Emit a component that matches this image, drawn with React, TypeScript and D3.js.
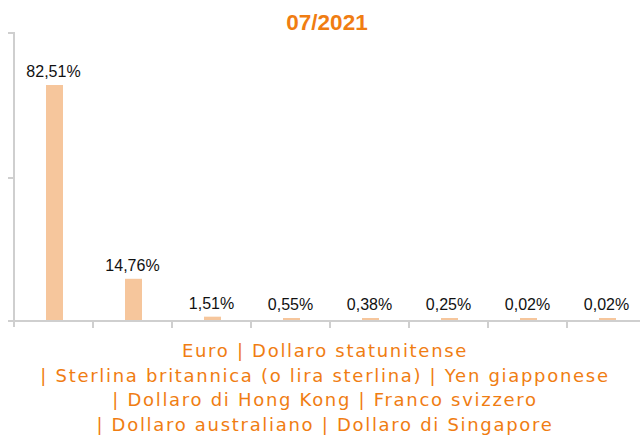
import React from "react";
import * as d3 from "d3";

const title = "07/2021";
const categories = [
  "Euro",
  "Dollaro statunitense",
  "Sterlina britannica (o lira sterlina)",
  "Yen giapponese",
  "Dollaro di Hong Kong",
  "Franco svizzero",
  "Dollaro australiano",
  "Dollaro di Singapore",
];
const values = [82.51, 14.76, 1.51, 0.55, 0.38, 0.25, 0.02, 0.02];
const yTicks = [0, 50, 100];

const W = 640;
const H = 435;
const ORANGE = "#f07d12";
const BAR = "#f6c69c";
const AXIS = "#cfcfcf";
const LABEL_FONT = "'Liberation Sans', Arial, Helvetica, sans-serif";
const CAT_FONT = "'DejaVu Sans', Verdana, sans-serif";
const CAT_SPACING = 1.7;

function measure(text: string, font: string): number {
  const c = document.createElement("canvas");
  const ctx = c.getContext("2d");
  if (!ctx) return text.length * 10.6;
  ctx.font = font;
  return ctx.measureText(text).width + text.length * CAT_SPACING;
}

function wrapCategories(cats: string[], maxW: number): string[] {
  const lines: string[] = [];
  let cur = "";
  cats.forEach((cat, i) => {
    const chunk = (i > 0 ? "| " : "") + cat;
    const trial = cur ? cur + " " + chunk : chunk;
    if (cur && measure(trial, `18px ${CAT_FONT}`) > maxW) {
      lines.push(cur);
      cur = chunk;
    } else {
      cur = trial;
    }
  });
  if (cur) lines.push(cur);
  return lines;
}

export default function App() {
  const x = d3.scaleBand<string>().domain(categories).range([14, 646]).padding(0);
  const y = d3.scaleLinear().domain([0, 100]).range([321, 35]);
  const barW = 17;
  const y0 = y(0);
  const lines = wrapCategories(categories, 610);

  return (
    <svg width={W} height={H} style={{ position: "absolute", left: 0, top: 0, background: "#fff" }}>
      <text x={327} y={30} textAnchor="middle" fontFamily={LABEL_FONT} fontWeight="bold" fontSize={22.5} fill={ORANGE}>
        {title}
      </text>
      {categories.map((c, i) => {
        const v = values[i];
        const cx = (x(c) as number) + x.bandwidth() / 2 + 1;
        const top = Math.min(y(v), y0 - 3);
        return (
          <g key={c}>
            <rect x={cx - barW / 2} y={top} width={barW} height={y0 - top} fill={BAR} />
            <text x={cx - 1} y={top - 8} textAnchor="middle" fontFamily={LABEL_FONT} fontSize={16} fill="#111">
              {v.toFixed(2).replace(".", ",") + "%"}
            </text>
          </g>
        );
      })}
      {/* y axis */}
      <line x1={14} x2={14} y1={33} y2={327} stroke={AXIS} strokeWidth={2} />
      {yTicks.map((t) => (
        <line key={t} x1={8} x2={t === 100 ? 15 : 14} y1={t === 100 ? 33 : y(t)} y2={t === 100 ? 33 : y(t)} stroke={AXIS} strokeWidth={2} />
      ))}
      {/* x axis */}
      <line x1={8} x2={W} y1={y0} y2={y0} stroke={AXIS} strokeWidth={2} />
      {categories.map((c) => (
        <line key={"t" + c} x1={(x(c) as number) + x.bandwidth()} x2={(x(c) as number) + x.bandwidth()} y1={y0} y2={y0 + 7} stroke={AXIS} strokeWidth={2} />
      ))}
      {lines.map((l, i) => (
        <text key={i} x={325} y={357 + i * 24.7} textAnchor="middle" fontFamily={CAT_FONT} fontSize={18} letterSpacing={CAT_SPACING} fill={ORANGE}>
          {l}
        </text>
      ))}
    </svg>
  );
}
